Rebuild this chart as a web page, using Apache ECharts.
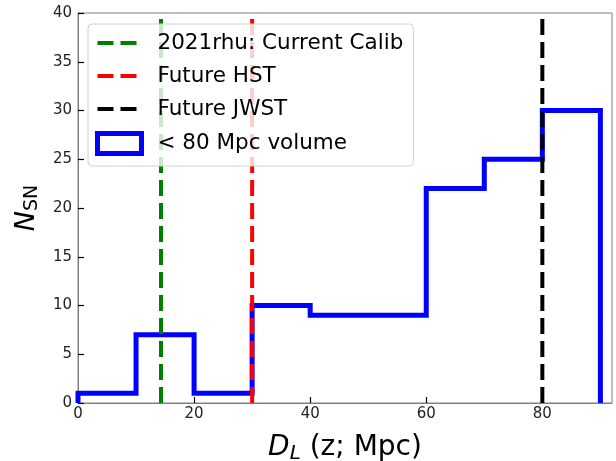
<!DOCTYPE html>
<html>
<head>
<meta charset="utf-8">
<script src="https://cdn.jsdelivr.net/npm/echarts@6/dist/echarts.min.js"></script>
<style>html,body{margin:0;padding:0;background:#fff}#c{width:616px;height:461px}</style>
</head>
<body>
<div id="c"></div>
<script>
// Histogram data
const binEdges = [0, 10, 20, 30, 40, 50, 60, 70, 80, 90];
const counts = [1, 7, 1, 10, 9, 9, 22, 25, 30];
const histName = '< 80 Mpc volume';

// Vertical reference lines
const refNames = ['2021rhu: Current Calib', 'Future HST', 'Future JWST'];
const refX = [14.3, 30, 80];
const refColors = ['#008000', '#ff0000', '#000000'];

// Axis ticks
const xTicks = [0, 20, 40, 60, 80];
const yTicks = [0, 5, 10, 15, 20, 25, 30, 35, 40];

const FONT = 'DejaVu Sans';
const DASH = [16, 7];

const histPts = [[binEdges[0], 0]];
for (let i = 0; i < counts.length; i++) {
  histPts.push([binEdges[i], counts[i]]);
  histPts.push([binEdges[i + 1], counts[i]]);
}
histPts.push([binEdges[binEdges.length - 1], 0]);

const series = [{
  name: histName, type: 'line', data: histPts, symbol: 'none',
  lineStyle: { color: '#0000ff', width: 5, join: 'miter', cap: 'butt' },
  itemStyle: { color: '#0000ff' }, z: 2, animation: false
}];
refNames.forEach((n, i) => {
  series.push({
    name: n, type: 'line', symbol: 'none',
    data: [[refX[i], yTicks[0]], [refX[i], yTicks[yTicks.length - 1]]],
    lineStyle: { color: refColors[i], width: 4, type: DASH, cap: 'butt' },
    itemStyle: { color: refColors[i] }, z: 3, animation: false
  });
});

const legendData = refNames.map((n, i) => ({
  name: n,
  itemStyle: { opacity: 0 },
  lineStyle: { color: refColors[i], width: 4, type: DASH, cap: 'butt' }
}));
legendData.push({ name: histName, icon: 'rect', itemStyle: { color: '#ffffff', borderColor: '#0000ff', borderWidth: 5 } });

const chart = echarts.init(document.getElementById('c'), null, { renderer: 'canvas' });
chart.setOption({
  animation: false,
  grid: { left: 78, right: 4, top: 13, bottom: 58, show: true, borderColor: '#808080', borderWidth: 1,
    backgroundColor: 'transparent', containLabel: false, outerBoundsMode: 'none' },
  xAxis: {
    type: 'value', min: xTicks[0], max: 92, interval: 20,
    axisLine: { show: true, lineStyle: { color: '#808080', width: 1 } },
    axisTick: { show: true, inside: true, length: 6, lineStyle: { color: '#000', width: 1.2 } },
    axisLabel: { color: '#222', fontFamily: FONT, fontSize: 15, margin: 4, showMaxLabel: false,
      formatter: v => (xTicks.indexOf(v) >= 0 ? String(v) : '') },
    splitLine: { show: false },
    name: '{i|D}{s|L}{n| (z; Mpc)}', nameLocation: 'middle', nameGap: 29,
    nameTextStyle: { fontFamily: FONT, fontSize: 28, fontStyle: 'normal', color: '#000',
      rich: {
        i: { fontFamily: FONT, fontSize: 28, fontStyle: 'italic', color: '#000' },
        s: { fontFamily: FONT, fontSize: 20, fontStyle: 'italic', color: '#000', padding: [12, 0, 0, 0] },
        n: { fontFamily: FONT, fontSize: 28, fontStyle: 'normal', color: '#000' }
      } }
  },
  yAxis: {
    type: 'value', min: yTicks[0], max: yTicks[yTicks.length - 1], interval: 5,
    axisLine: { show: true, lineStyle: { color: '#808080', width: 1 } },
    axisTick: { show: true, inside: true, length: 6, lineStyle: { color: '#000', width: 1.2 } },
    axisLabel: { color: '#222', fontFamily: FONT, fontSize: 15, margin: 6 },
    splitLine: { show: false },
    name: '{i|N}{s|SN}', nameLocation: 'middle', nameGap: 36, nameRotate: 90,
    nameTextStyle: { fontFamily: FONT, fontSize: 27, color: '#000',
      rich: {
        i: { fontFamily: FONT, fontSize: 27, fontStyle: 'italic', color: '#000' },
        s: { fontFamily: FONT, fontSize: 19, color: '#000', padding: [12, 0, 0, 0] }
      } }
  },
  legend: {
    orient: 'vertical', left: 88, top: 24,
    padding: [8, 10, 10, 7], itemGap: 11, itemWidth: 44, itemHeight: 20,
    backgroundColor: 'rgba(255,255,255,0.8)', borderColor: '#d0d0d0', borderWidth: 1, borderRadius: 4,
    textStyle: { fontFamily: FONT, fontSize: 21.5, color: '#000', padding: [0, 0, 0, 11] },
    data: legendData
  },
  series: series
});
</script>
</body>
</html>
